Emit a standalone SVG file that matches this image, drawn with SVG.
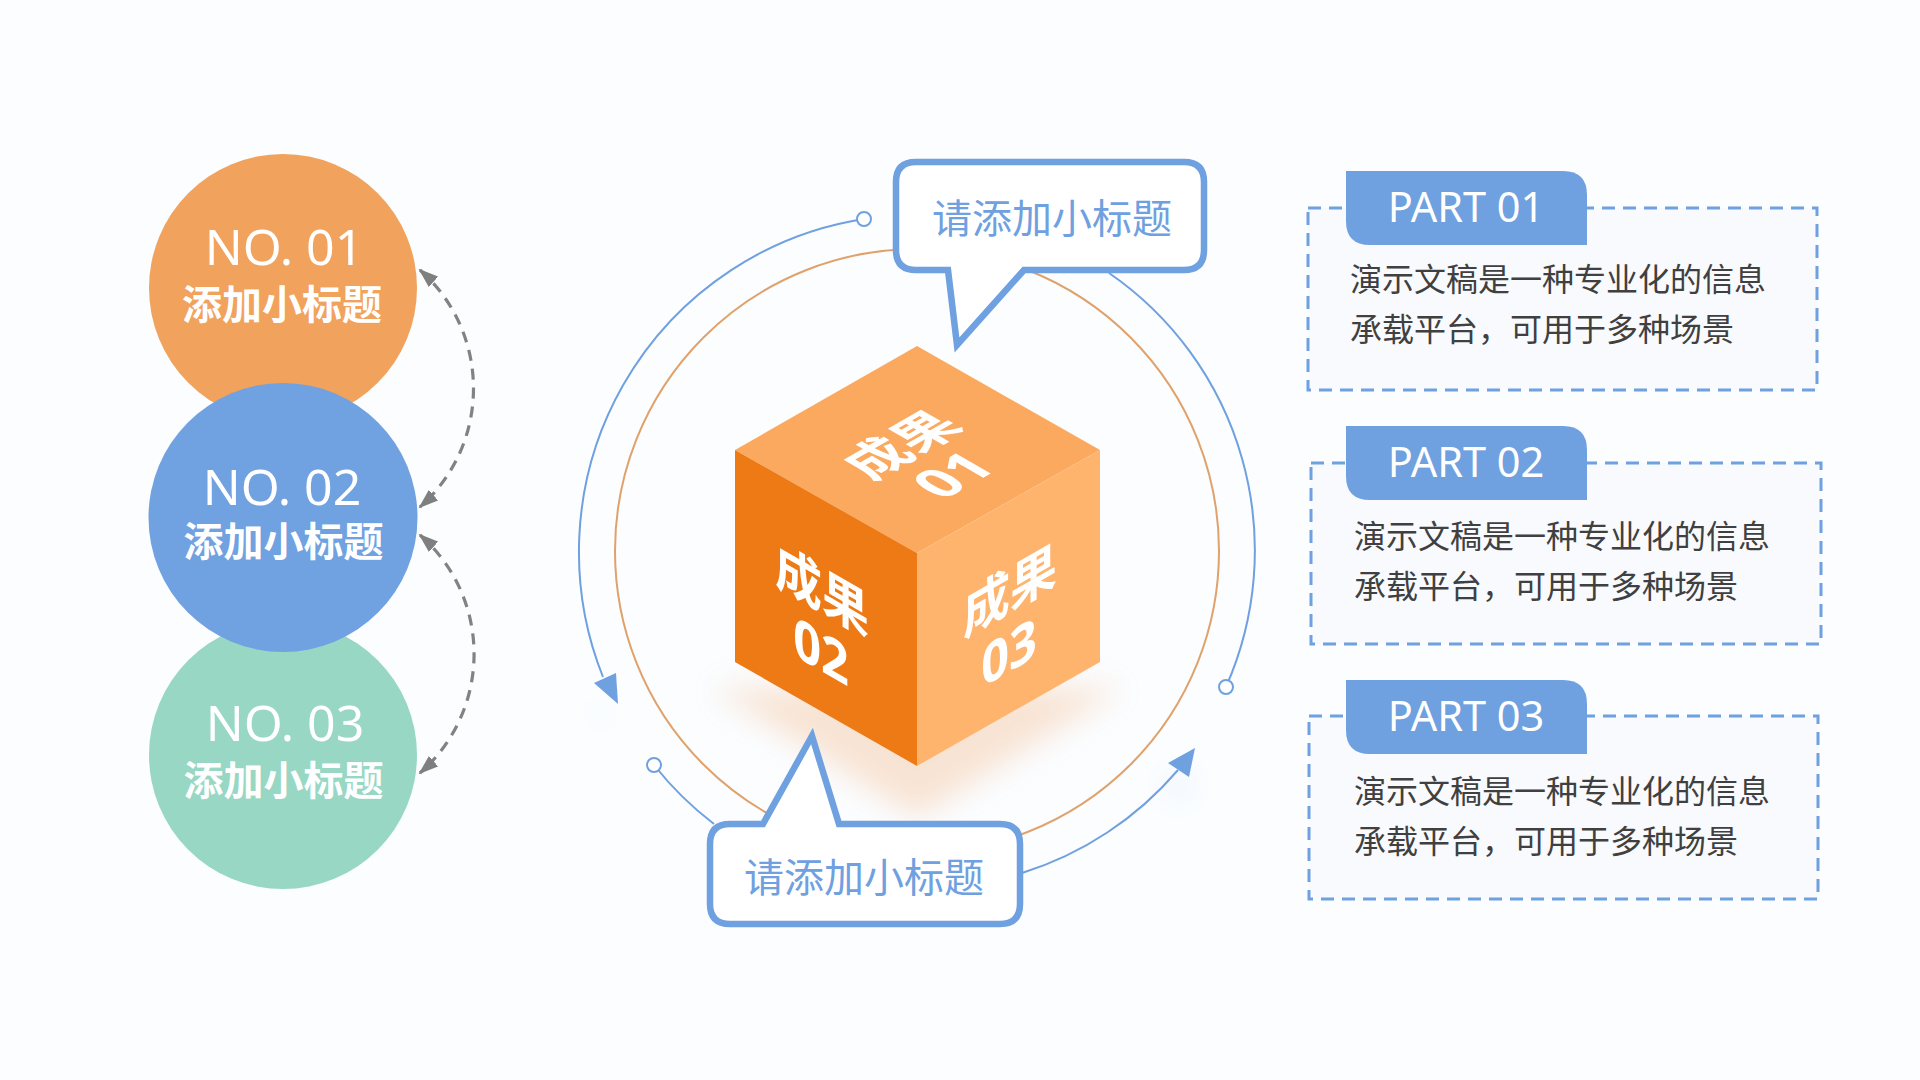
<svg xmlns="http://www.w3.org/2000/svg" width="1920" height="1080" viewBox="0 0 1920 1080">
<style>
.no{font-family:"Noto Sans","Open Sans",sans-serif;font-size:50px;fill:#fff;text-anchor:middle}
.sub{font-family:"Noto Sans CJK SC",sans-serif;font-size:40px;font-weight:700;fill:#fff;text-anchor:middle}
.bt{font-family:"Noto Sans CJK SC",sans-serif;font-size:40px;fill:#6fa0df;text-anchor:middle}
.part{font-family:"Noto Sans","Open Sans",sans-serif;font-size:41.500px;fill:#fff;text-anchor:middle}
.body{font-family:"Noto Sans CJK SC",sans-serif;font-size:32px;fill:#404040}
.cu{font-family:"Noto Sans CJK SC",sans-serif;font-size:54px;font-weight:700;fill:#fff;text-anchor:middle}
.cn{font-family:"Noto Sans",sans-serif;font-size:56px;font-weight:700;fill:#fff;text-anchor:middle}
.arc{fill:none;stroke:#6fa0df;stroke-width:2}
.dot{fill:#fff;stroke:#6fa0df;stroke-width:2}
.dash{fill:none;stroke:#828282;stroke-width:3.200;stroke-dasharray:11 8}
.panel{fill:#f8fafd;stroke:#6fa0df;stroke-width:3;stroke-dasharray:13 8}
.tab{fill:#6fa0df}
.bubble{fill:#fff;stroke:#6fa0df;stroke-width:6.500;stroke-linejoin:miter}
</style>
<defs>
<marker id="ga" viewBox="0 0 10 10" refX="9" refY="5" markerWidth="20" markerHeight="14" markerUnits="userSpaceOnUse" orient="auto-start-reverse" preserveAspectRatio="none"><path d="M0 0L10 5L0 10z" fill="#7f7f7f"/></marker>
<filter id="b1" x="-30%" y="-60%" width="160%" height="220%"><feGaussianBlur stdDeviation="15"/></filter>
<filter id="b2" x="-100%" y="-100%" width="300%" height="300%"><feGaussianBlur stdDeviation="14"/></filter>
</defs>
<rect width="1920" height="1080" fill="#fbfdff"/>

<g id="connectors">
<path class="dash" d="M420 270A158 158 0 0 1 420 507" marker-start="url(#ga)" marker-end="url(#ga)"/>
<path class="dash" d="M420 535A158 158 0 0 1 420 773" marker-start="url(#ga)" marker-end="url(#ga)"/>
<circle cx="917" cy="551" r="302" fill="none" stroke="#e0a26c" stroke-width="2"/>
<path d="M606 688L618 704 594 683z M1168 763L1195 748 1189 777z" fill="#6fa0df" opacity=".15" filter="url(#b2)" transform="translate(-6 24)"/>
<path class="arc" d="M864 219A337 337 0 0 0 603 677"/>
<path class="arc" d="M1109 273A337 337 0 0 1 1226 687"/>
<path class="arc" d="M654 765A337 337 0 0 0 714 824"/>
<path class="arc" d="M1022 873A337 337 0 0 0 1178 770"/>
<path d="M594 683L616 673 618 704z" fill="#6fa0df"/>
<path d="M1168 763L1195 748 1189 777z" fill="#6fa0df"/>
<circle class="dot" cx="864" cy="219" r="7"/>
<circle class="dot" cx="1226" cy="687" r="7"/>
<circle class="dot" cx="654" cy="765" r="7"/>
</g>

<g id="circle-01"><circle cx="283" cy="288" r="134" fill="#f1a25c"/><text class="no" x="284" y="265">NO. 01</text><text class="sub" x="282" y="319">添加小标题</text></g>
<g id="circle-03"><circle cx="283" cy="755" r="134" fill="#98d7c4"/><text class="no" x="285" y="741">NO. 03</text><text class="sub" x="283.500" y="795">添加小标题</text></g>
<g id="circle-02"><circle cx="283" cy="517.500" r="134.500" fill="#70a1e0"/><text class="no" x="282" y="505">NO. 02</text><text class="sub" x="283.500" y="556">添加小标题</text></g>

<g id="cube">
<path d="M712 688L1122 688 917 818z" fill="#f0a060" opacity=".27" filter="url(#b1)"/>
<path d="M917 346L1100 450 917 553 735 450z" fill="#fba95f"/>
<path d="M735 450L917 553 917 766 735 662z" fill="#ed7a14"/>
<path d="M1100 450L1100 662 917 766 917 553z" fill="#ffb46e"/>
<g transform="matrix(.87 -.5 .87 .5 902 445)"><text class="cu" y="19">成果</text></g>
<g transform="matrix(.87 -.5 .87 .5 953 475)"><text class="cn" y="20">01</text></g>
<g transform="matrix(.87 .5 0 1 822 591)"><text class="cu" y="19">成果</text></g>
<g transform="matrix(.87 .5 0 1 821 651)"><text class="cn" y="20">02</text></g>
<g transform="matrix(.87 -.5 0 1 1010 591)"><text class="cu" y="19">成果</text></g>
<g transform="matrix(.87 -.5 0 1 1009 652)"><text class="cn" y="20">03</text></g>
</g>

<g id="bubble-top">
<path class="bubble" d="M916 162H1184Q1204 162 1204 182V250Q1204 270 1184 270H1024L957 345 948 270H916Q896 270 896 250V182Q896 162 916 162z"/>
<text class="bt" x="1052" y="233">请添加小标题</text>
</g>
<g id="bubble-bottom">
<path class="bubble" d="M730 824H763L812 736 839 824H1000Q1020 824 1020 844V904Q1020 924 1000 924H730Q710 924 710 904V844Q710 824 730 824z"/>
<text class="bt" x="864" y="892">请添加小标题</text>
</g>

<g id="part-01">
<rect class="panel" x="1308" y="208" width="509" height="182"/>
<path class="tab" d="M1346 171H1563Q1587 171 1587 195V245H1370Q1346 245 1346 221z"/>
<text class="part" x="1466" y="222">PART 01</text>
<text class="body" x="1350" y="290.500">演示文稿是一种专业化的信息</text>
<text class="body" x="1350" y="340.500">承载平台，可用于多种场景</text>
</g>
<g id="part-02">
<rect class="panel" x="1311" y="463" width="510" height="181"/>
<path class="tab" d="M1346 426H1563Q1587 426 1587 450V500H1370Q1346 500 1346 476z"/>
<text class="part" x="1466" y="477">PART 02</text>
<text class="body" x="1354" y="547.500">演示文稿是一种专业化的信息</text>
<text class="body" x="1354" y="597.500">承载平台，可用于多种场景</text>
</g>
<g id="part-03">
<rect class="panel" x="1309" y="716" width="509" height="183"/>
<path class="tab" d="M1346 680H1563Q1587 680 1587 704V754H1370Q1346 754 1346 730z"/>
<text class="part" x="1466" y="731">PART 03</text>
<text class="body" x="1354" y="803">演示文稿是一种专业化的信息</text>
<text class="body" x="1354" y="853">承载平台，可用于多种场景</text>
</g>
</svg>
